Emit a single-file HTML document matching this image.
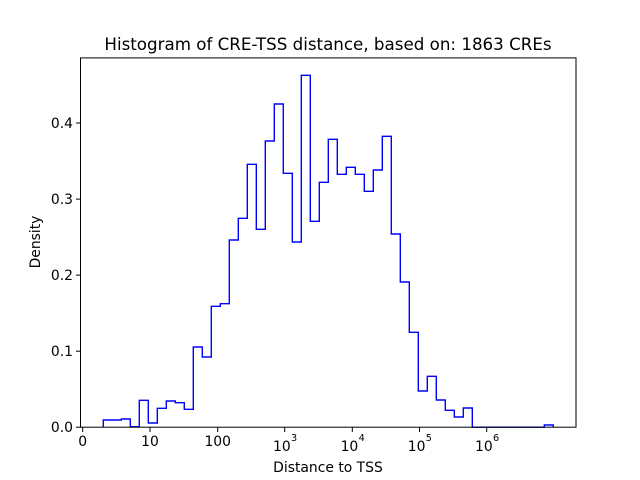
<!DOCTYPE html>
<html><head><meta charset="utf-8"><style>body{margin:0;background:#fff}svg{display:block}</style></head><body>
<svg width="640" height="480" xmlns="http://www.w3.org/2000/svg" font-family="DejaVu Sans, Liberation Sans, sans-serif">
<rect width="640" height="480" fill="#fff"/>
<path d="M103.3 427.2 V420 H121.3 V419 H130.3 V426.7 H139.3 V400.3 H148.3 V423 H157.3 V408.3 H166.3 V401 H175.3 V402.7 H184.3 V409.3 H193.3 V347 H202.3 V357 H211.3 V306.3 H220.3 V303.7 H229.3 V240 H238.3 V218.3 H247.3 V164.3 H256.3 V229.3 H265.3 V141 H274.3 V104 H283.3 V173.3 H292.3 V242 H301.3 V75.3 H310.3 V221.3 H319.3 V182.3 H328.3 V139.3 H337.3 V174.3 H346.3 V167.3 H355.3 V174.3 H364.3 V191.3 H373.3 V170 H382.3 V136.3 H391.3 V234 H400.3 V282 H409.3 V332.3 H418.3 V391 H427.3 V376.3 H436.3 V400 H445.3 V410.3 H454.3 V417 H463.3 V408 H472.3 V427.2 H544.3 V425 H553.3 V427.2" fill="none" stroke="#0000ff" stroke-width="1.4"/>
<rect x="80.5" y="57.9" width="495.5" height="369.3" fill="none" stroke="#000" stroke-width="1"/>
<g stroke="#000" stroke-width="1">
<line x1="82.7" y1="427.2" x2="82.7" y2="432"/><line x1="150" y1="427.2" x2="150" y2="432"/><line x1="217.7" y1="427.2" x2="217.7" y2="432"/><line x1="284.7" y1="427.2" x2="284.7" y2="432"/><line x1="352.3" y1="427.2" x2="352.3" y2="432"/><line x1="419.5" y1="427.2" x2="419.5" y2="432"/><line x1="486.7" y1="427.2" x2="486.7" y2="432"/>
<line x1="76" y1="427.2" x2="80.5" y2="427.2"/><line x1="76" y1="351.2" x2="80.5" y2="351.2"/><line x1="76" y1="275.1" x2="80.5" y2="275.1"/><line x1="76" y1="199.1" x2="80.5" y2="199.1"/><line x1="76" y1="123" x2="80.5" y2="123"/>
</g>
<g font-size="13.9" fill="#000" text-anchor="middle">
<text x="82.7" y="446">0</text><text x="150" y="446">10</text><text x="217.7" y="446">100</text>
</g>
<g font-size="13.9" fill="#000" text-anchor="start">
<text x="273" y="451">10</text><text x="291" y="441" font-size="9.7">3</text>
<text x="340.6" y="451">10</text><text x="358.6" y="441" font-size="9.7">4</text>
<text x="407.8" y="451">10</text><text x="425.8" y="441" font-size="9.7">5</text>
<text x="475" y="451">10</text><text x="493" y="441" font-size="9.7">6</text>
</g>
<g font-size="13.9" fill="#000" text-anchor="end">
<text x="73" y="432.2">0.0</text><text x="73" y="356.2">0.1</text><text x="73" y="280.1">0.2</text><text x="73" y="204.1">0.3</text><text x="73" y="128">0.4</text>
</g>
<text x="328" y="472" font-size="13.9" text-anchor="middle">Distance to TSS</text>
<text transform="translate(40,242) rotate(-90)" font-size="13.9" text-anchor="middle">Density</text>
<text x="328" y="50" font-size="16.7" text-anchor="middle">Histogram of CRE-TSS distance, based on: 1863 CREs</text>
</svg>
</body></html>
